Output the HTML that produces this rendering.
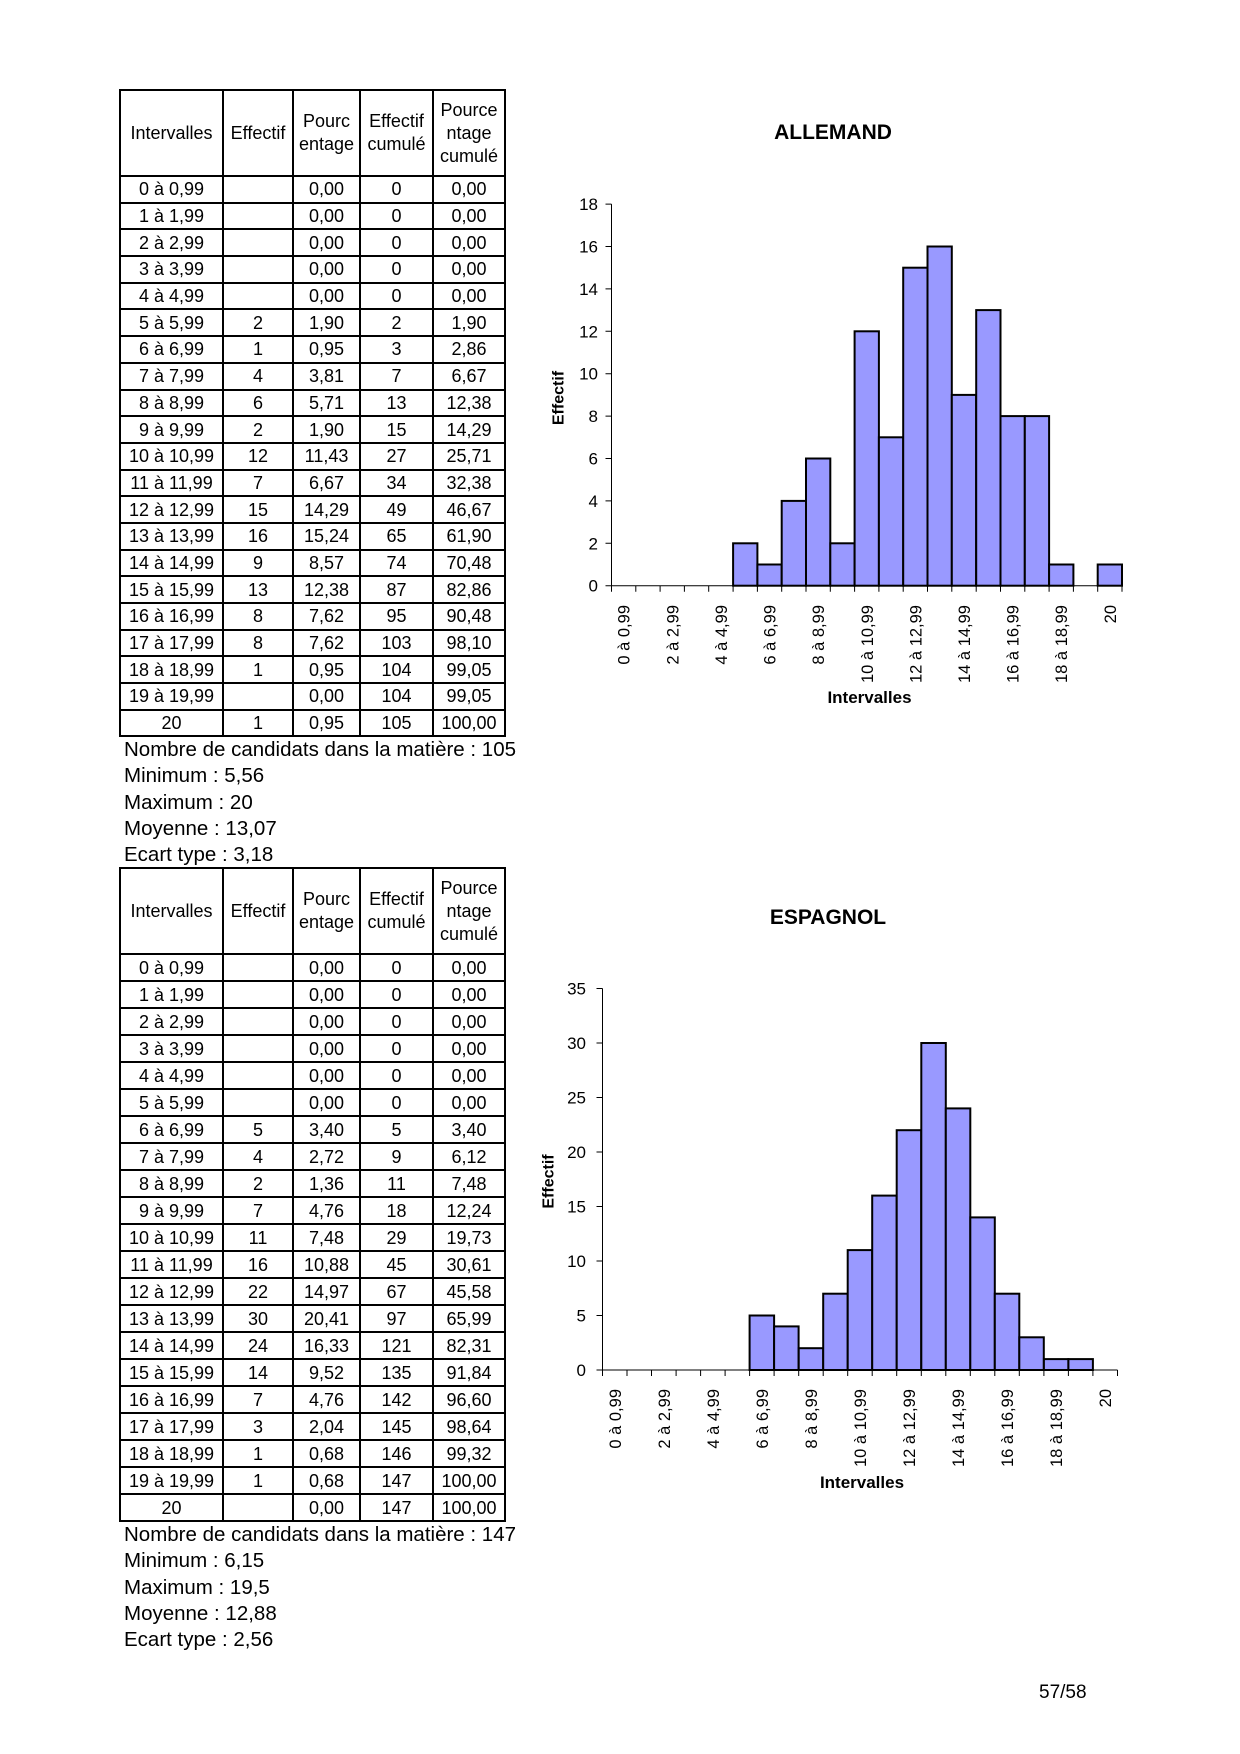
<!DOCTYPE html>
<html><head><meta charset="utf-8"><style>
body{margin:0;background:#fff;}
.pg{position:relative;width:1240px;height:1754px;overflow:hidden;font-family:"Liberation Sans",sans-serif;color:#000;}
table{position:absolute;left:119px;border-collapse:collapse;font-size:18px;}
td{border:2px solid #000;text-align:center;padding:0;height:24.7px;line-height:22px;}
table.t2 td{height:25px;}
tr.h td{height:84px !important;line-height:23px;}
.st{position:absolute;left:124px;font-size:20.5px;line-height:26.3px;}
svg{position:absolute;left:0;top:0;}
</style></head><body><div class="pg">
<table style="top:89px">
<colgroup><col style="width:103px"><col style="width:70px"><col style="width:67px"><col style="width:73px"><col style="width:72px"></colgroup>
<tr class="h"><td>Intervalles</td><td>Effectif</td><td>Pourc<br>entage</td><td>Effectif<br>cumulé</td><td>Pource<br>ntage<br>cumulé</td></tr>
<tr><td>0 à 0,99</td><td></td><td>0,00</td><td>0</td><td>0,00</td></tr>
<tr><td>1 à 1,99</td><td></td><td>0,00</td><td>0</td><td>0,00</td></tr>
<tr><td>2 à 2,99</td><td></td><td>0,00</td><td>0</td><td>0,00</td></tr>
<tr><td>3 à 3,99</td><td></td><td>0,00</td><td>0</td><td>0,00</td></tr>
<tr><td>4 à 4,99</td><td></td><td>0,00</td><td>0</td><td>0,00</td></tr>
<tr><td>5 à 5,99</td><td>2</td><td>1,90</td><td>2</td><td>1,90</td></tr>
<tr><td>6 à 6,99</td><td>1</td><td>0,95</td><td>3</td><td>2,86</td></tr>
<tr><td>7 à 7,99</td><td>4</td><td>3,81</td><td>7</td><td>6,67</td></tr>
<tr><td>8 à 8,99</td><td>6</td><td>5,71</td><td>13</td><td>12,38</td></tr>
<tr><td>9 à 9,99</td><td>2</td><td>1,90</td><td>15</td><td>14,29</td></tr>
<tr><td>10 à 10,99</td><td>12</td><td>11,43</td><td>27</td><td>25,71</td></tr>
<tr><td>11 à 11,99</td><td>7</td><td>6,67</td><td>34</td><td>32,38</td></tr>
<tr><td>12 à 12,99</td><td>15</td><td>14,29</td><td>49</td><td>46,67</td></tr>
<tr><td>13 à 13,99</td><td>16</td><td>15,24</td><td>65</td><td>61,90</td></tr>
<tr><td>14 à 14,99</td><td>9</td><td>8,57</td><td>74</td><td>70,48</td></tr>
<tr><td>15 à 15,99</td><td>13</td><td>12,38</td><td>87</td><td>82,86</td></tr>
<tr><td>16 à 16,99</td><td>8</td><td>7,62</td><td>95</td><td>90,48</td></tr>
<tr><td>17 à 17,99</td><td>8</td><td>7,62</td><td>103</td><td>98,10</td></tr>
<tr><td>18 à 18,99</td><td>1</td><td>0,95</td><td>104</td><td>99,05</td></tr>
<tr><td>19 à 19,99</td><td></td><td>0,00</td><td>104</td><td>99,05</td></tr>
<tr><td>20</td><td>1</td><td>0,95</td><td>105</td><td>100,00</td></tr>
</table>
<div class="st" style="top:737px">Nombre de candidats dans la matière : 105<br>Minimum : 5,56<br>Maximum : 20<br>Moyenne : 13,07<br>Ecart type : 3,18</div>

<table class="t2" style="top:867px">
<colgroup><col style="width:103px"><col style="width:70px"><col style="width:67px"><col style="width:73px"><col style="width:72px"></colgroup>
<tr class="h"><td>Intervalles</td><td>Effectif</td><td>Pourc<br>entage</td><td>Effectif<br>cumulé</td><td>Pource<br>ntage<br>cumulé</td></tr>
<tr><td>0 à 0,99</td><td></td><td>0,00</td><td>0</td><td>0,00</td></tr>
<tr><td>1 à 1,99</td><td></td><td>0,00</td><td>0</td><td>0,00</td></tr>
<tr><td>2 à 2,99</td><td></td><td>0,00</td><td>0</td><td>0,00</td></tr>
<tr><td>3 à 3,99</td><td></td><td>0,00</td><td>0</td><td>0,00</td></tr>
<tr><td>4 à 4,99</td><td></td><td>0,00</td><td>0</td><td>0,00</td></tr>
<tr><td>5 à 5,99</td><td></td><td>0,00</td><td>0</td><td>0,00</td></tr>
<tr><td>6 à 6,99</td><td>5</td><td>3,40</td><td>5</td><td>3,40</td></tr>
<tr><td>7 à 7,99</td><td>4</td><td>2,72</td><td>9</td><td>6,12</td></tr>
<tr><td>8 à 8,99</td><td>2</td><td>1,36</td><td>11</td><td>7,48</td></tr>
<tr><td>9 à 9,99</td><td>7</td><td>4,76</td><td>18</td><td>12,24</td></tr>
<tr><td>10 à 10,99</td><td>11</td><td>7,48</td><td>29</td><td>19,73</td></tr>
<tr><td>11 à 11,99</td><td>16</td><td>10,88</td><td>45</td><td>30,61</td></tr>
<tr><td>12 à 12,99</td><td>22</td><td>14,97</td><td>67</td><td>45,58</td></tr>
<tr><td>13 à 13,99</td><td>30</td><td>20,41</td><td>97</td><td>65,99</td></tr>
<tr><td>14 à 14,99</td><td>24</td><td>16,33</td><td>121</td><td>82,31</td></tr>
<tr><td>15 à 15,99</td><td>14</td><td>9,52</td><td>135</td><td>91,84</td></tr>
<tr><td>16 à 16,99</td><td>7</td><td>4,76</td><td>142</td><td>96,60</td></tr>
<tr><td>17 à 17,99</td><td>3</td><td>2,04</td><td>145</td><td>98,64</td></tr>
<tr><td>18 à 18,99</td><td>1</td><td>0,68</td><td>146</td><td>99,32</td></tr>
<tr><td>19 à 19,99</td><td>1</td><td>0,68</td><td>147</td><td>100,00</td></tr>
<tr><td>20</td><td></td><td>0,00</td><td>147</td><td>100,00</td></tr>
</table>
<div class="st" style="top:1522px">Nombre de candidats dans la matière : 147<br>Minimum : 6,15<br>Maximum : 19,5<br>Moyenne : 12,88<br>Ecart type : 2,56</div>

<div style="position:absolute;left:1039px;top:1682px;font-size:19px;">57/58</div>

<svg width="1240" height="1754" font-family="Liberation Sans, sans-serif">
<!-- Chart 1 -->
<text x="833" y="139" font-size="21" font-weight="bold" text-anchor="middle">ALLEMAND</text>
<g fill="#9999ff" stroke="#000" stroke-width="2">
<rect x="733.1" y="543.3" width="24.3" height="42.4"/>
<rect x="757.4" y="564.5" width="24.3" height="21.2"/>
<rect x="781.7" y="500.9" width="24.3" height="84.8"/>
<rect x="806.0" y="458.5" width="24.3" height="127.2"/>
<rect x="830.3" y="543.3" width="24.3" height="42.4"/>
<rect x="854.6" y="331.3" width="24.3" height="254.4"/>
<rect x="878.9" y="437.3" width="24.3" height="148.4"/>
<rect x="903.2" y="267.7" width="24.3" height="318"/>
<rect x="927.5" y="246.5" width="24.3" height="339.2"/>
<rect x="951.8" y="394.9" width="24.3" height="190.8"/>
<rect x="976.2" y="310.1" width="24.3" height="275.6"/>
<rect x="1000.5" y="416.1" width="24.3" height="169.6"/>
<rect x="1024.8" y="416.1" width="24.3" height="169.6"/>
<rect x="1049.1" y="564.5" width="24.3" height="21.2"/>
<rect x="1097.7" y="564.5" width="24.3" height="21.2"/>
</g>
<g stroke="#000" stroke-width="1">
<line x1="611.5" y1="204.1" x2="611.5" y2="585.7"/><line x1="611.5" y1="585.7" x2="1122" y2="585.7"/>
<path d="M605.5 585.7H611.5M605.5 543.3H611.5M605.5 500.9H611.5M605.5 458.5H611.5M605.5 416.1H611.5M605.5 373.7H611.5M605.5 331.3H611.5M605.5 288.9H611.5M605.5 246.5H611.5M605.5 204.1H611.5"/>
<path d="M611.5 585.7v6M635.8 585.7v6M660.1 585.7v6M684.4 585.7v6M708.7 585.7v6M733.1 585.7v6M757.4 585.7v6M781.7 585.7v6M806 585.7v6M830.3 585.7v6M854.6 585.7v6M878.9 585.7v6M903.2 585.7v6M927.5 585.7v6M951.8 585.7v6M976.2 585.7v6M1000.5 585.7v6M1024.8 585.7v6M1049.1 585.7v6M1073.4 585.7v6M1097.7 585.7v6M1122 585.7v6"/>
</g>
<g font-size="17" text-anchor="end">
<text x="598" y="591.7">0</text><text x="598" y="549.3">2</text><text x="598" y="506.9">4</text><text x="598" y="464.5">6</text><text x="598" y="422.1">8</text><text x="598" y="379.7">10</text><text x="598" y="337.3">12</text><text x="598" y="294.9">14</text><text x="598" y="252.5">16</text><text x="598" y="210.1">18</text>
</g>
<text transform="translate(563.5,398) rotate(-90)" font-size="16" font-weight="bold" text-anchor="middle">Effectif</text>
<g font-size="16.5" text-anchor="end">
<text transform="translate(629.7,605) rotate(-90)">0 à 0,99</text>
<text transform="translate(678.3,605) rotate(-90)">2 à 2,99</text>
<text transform="translate(726.9,605) rotate(-90)">4 à 4,99</text>
<text transform="translate(775.5,605) rotate(-90)">6 à 6,99</text>
<text transform="translate(824.1,605) rotate(-90)">8 à 8,99</text>
<text transform="translate(872.8,605) rotate(-90)">10 à 10,99</text>
<text transform="translate(921.4,605) rotate(-90)">12 à 12,99</text>
<text transform="translate(970,605) rotate(-90)">14 à 14,99</text>
<text transform="translate(1018.6,605) rotate(-90)">16 à 16,99</text>
<text transform="translate(1067.2,605) rotate(-90)">18 à 18,99</text>
<text transform="translate(1115.8,605) rotate(-90)">20</text>
</g>
<text x="869.5" y="703" font-size="17" font-weight="bold" text-anchor="middle">Intervalles</text>

<!-- Chart 2 -->
<text x="828" y="924" font-size="21" font-weight="bold" text-anchor="middle">ESPAGNOL</text>
<g fill="#9999ff" stroke="#000" stroke-width="2">
<rect x="749.6" y="1315.5" width="24.5" height="54.5"/>
<rect x="774.1" y="1326.4" width="24.5" height="43.6"/>
<rect x="798.7" y="1348.2" width="24.5" height="21.8"/>
<rect x="823.2" y="1293.7" width="24.5" height="76.3"/>
<rect x="847.7" y="1250.1" width="24.5" height="119.9"/>
<rect x="872.2" y="1195.6" width="24.5" height="174.4"/>
<rect x="896.7" y="1130.2" width="24.5" height="239.8"/>
<rect x="921.3" y="1043" width="24.5" height="327"/>
<rect x="945.8" y="1108.4" width="24.5" height="261.6"/>
<rect x="970.3" y="1217.4" width="24.5" height="152.6"/>
<rect x="994.8" y="1293.7" width="24.5" height="76.3"/>
<rect x="1019.3" y="1337.3" width="24.5" height="32.7"/>
<rect x="1043.9" y="1359.1" width="24.5" height="10.9"/>
<rect x="1068.4" y="1359.1" width="24.5" height="10.9"/>
</g>
<g stroke="#000" stroke-width="1">
<line x1="602.5" y1="988.5" x2="602.5" y2="1370"/><line x1="602.5" y1="1370" x2="1117.5" y2="1370"/>
<path d="M596.5 1370H602.5M596.5 1315.5H602.5M596.5 1261H602.5M596.5 1206.5H602.5M596.5 1152H602.5M596.5 1097.5H602.5M596.5 1043H602.5M596.5 988.5H602.5"/>
<path d="M602.5 1370v6M627 1370v6M651.5 1370v6M676.1 1370v6M700.6 1370v6M725.1 1370v6M749.6 1370v6M774.1 1370v6M798.7 1370v6M823.2 1370v6M847.7 1370v6M872.2 1370v6M896.7 1370v6M921.3 1370v6M945.8 1370v6M970.3 1370v6M994.8 1370v6M1019.3 1370v6M1043.9 1370v6M1068.4 1370v6M1092.9 1370v6M1117.5 1370v6"/>
</g>
<g font-size="17" text-anchor="end">
<text x="586" y="1376">0</text><text x="586" y="1321.5">5</text><text x="586" y="1267">10</text><text x="586" y="1212.5">15</text><text x="586" y="1158">20</text><text x="586" y="1103.5">25</text><text x="586" y="1049">30</text><text x="586" y="994.5">35</text>
</g>
<text transform="translate(553.5,1181.5) rotate(-90)" font-size="16" font-weight="bold" text-anchor="middle">Effectif</text>
<g font-size="16.5" text-anchor="end">
<text transform="translate(620.8,1389) rotate(-90)">0 à 0,99</text>
<text transform="translate(669.8,1389) rotate(-90)">2 à 2,99</text>
<text transform="translate(718.8,1389) rotate(-90)">4 à 4,99</text>
<text transform="translate(767.9,1389) rotate(-90)">6 à 6,99</text>
<text transform="translate(816.9,1389) rotate(-90)">8 à 8,99</text>
<text transform="translate(865.9,1389) rotate(-90)">10 à 10,99</text>
<text transform="translate(915,1389) rotate(-90)">12 à 12,99</text>
<text transform="translate(964,1389) rotate(-90)">14 à 14,99</text>
<text transform="translate(1013.1,1389) rotate(-90)">16 à 16,99</text>
<text transform="translate(1062.1,1389) rotate(-90)">18 à 18,99</text>
<text transform="translate(1111.1,1389) rotate(-90)">20</text>
</g>
<text x="862" y="1488" font-size="17" font-weight="bold" text-anchor="middle">Intervalles</text>
</svg>
</div></body></html>
